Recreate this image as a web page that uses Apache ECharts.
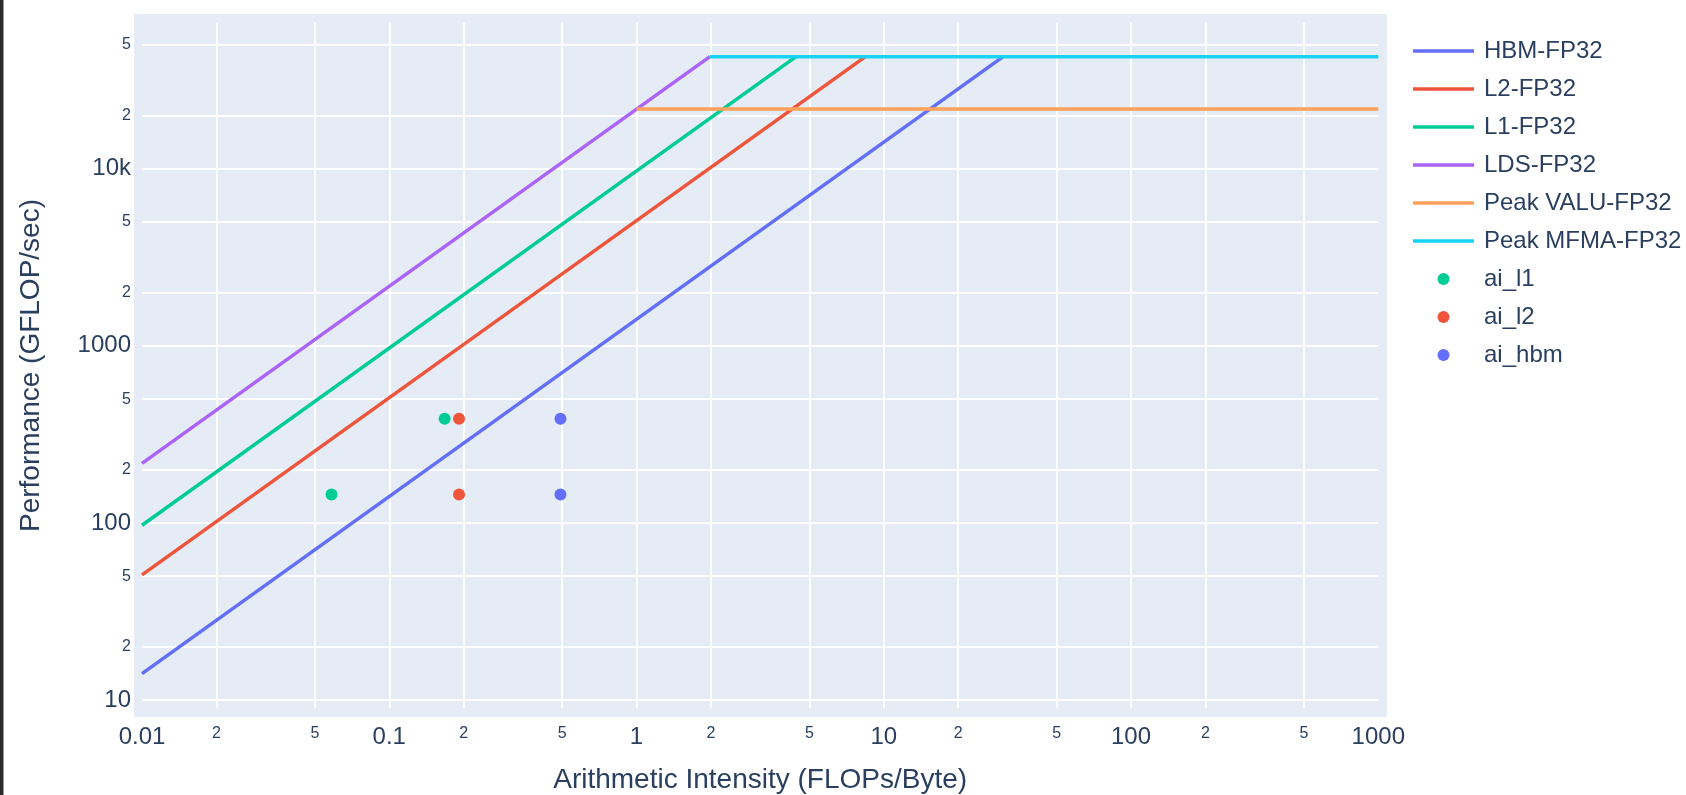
<!DOCTYPE html>
<html>
<head>
<meta charset="utf-8">
<script src="https://cdn.jsdelivr.net/npm/echarts@6/dist/echarts.min.js"></script>
<style>
html,body{margin:0;padding:0;background:#ffffff;}
#chart{width:1686px;height:795px;}
</style>
</head>
<body>
<div id="chart"></div>
<script>
// ---- data ----
const seriesNames = ['HBM-FP32','L2-FP32','L1-FP32','LDS-FP32','Peak VALU-FP32','Peak MFMA-FP32'];
const hbmX  = [0.01, 30.4];   const hbmY  = [14.1, 42900];
const l2X   = [0.01, 8.43];   const l2Y   = [50.9, 42900];
const l1X   = [0.01, 4.42];   const l1Y   = [97, 42900];
const ldsX  = [0.01, 1.98];   const ldsY  = [217, 42900];
const valuX = [1.0, 1000];    const valuY = [21700, 21700];
const mfmaX = [1.98, 1000];   const mfmaY = [42900, 42900];

const scatterNames = ['ai_l1','ai_l2','ai_hbm'];
const aiL1X  = [0.0584, 0.1675]; const aiL1Y  = [144.5, 387];
const aiL2X  = [0.1915, 0.1915]; const aiL2Y  = [144.5, 387];
const aiHbmX = [0.4926, 0.4926]; const aiHbmY = [144.5, 387];

const xTickValues = [0.01,0.02,0.05,0.1,0.2,0.5,1,2,5,10,20,50,100,200,500,1000];
const xTickLabels = ['0.01','2','5','0.1','2','5','1','2','5','10','2','5','100','2','5','1000'];
const yTickValues = [10,20,50,100,200,500,1000,2000,5000,10000,20000,50000];
const yTickLabels = ['10','2','5','100','2','5','1000','2','5','10k','2','5'];

const xRange = [0.01, 1000];
const yRange = [8.98, 66700];

// ---- styling ----
const colors = ['#636efa','#EF553B','#00cc96','#ab63fa','#FFA15A','#19d3f3'];
const textColor = '#2a3f5f';
const fontFamily = '"Liberation Sans", Arial, sans-serif';
const lineIcon = 'path://M0,0L61,0L61,3.5L0,3.5Z';

function pairs(xs, ys){ return xs.map((x,i)=>[x, ys[i]]); }
function makeFormatter(vals, labels){
  return function(v){
    for (let i=0;i<vals.length;i++){
      if (Math.abs(Math.log10(v) - Math.log10(vals[i])) < 1e-6){
        const t = labels[i];
        return (t === '2' || t === '5') ? '{small|' + t + '}' : '{big|' + t + '}';
      }
    }
    return '';
  };
}
const rich = {
  big:   {fontSize: 24, lineHeight: 24, color: textColor, fontFamily: fontFamily},
  small: {fontSize: 16, lineHeight: 16, color: textColor, fontFamily: fontFamily}
};

const lineSets = [[hbmX,hbmY],[l2X,l2Y],[l1X,l1Y],[ldsX,ldsY],[valuX,valuY],[mfmaX,mfmaY]];
const series = lineSets.map((s,i)=>({
  name: seriesNames[i],
  type: 'line',
  data: pairs(s[0], s[1]),
  symbol: 'none',
  showSymbol: false,
  lineStyle: {color: colors[i], width: 3.5},
  itemStyle: {color: colors[i]},
  silent: true,
  z: 2
}));
const scat = [[aiL1X, aiL1Y, colors[2]], [aiL2X, aiL2Y, colors[1]], [aiHbmX, aiHbmY, colors[0]]];
scat.forEach((s,i)=>{
  series.push({
    name: scatterNames[i], type: 'scatter', data: pairs(s[0], s[1]),
    symbol: 'circle', symbolSize: 12,
    itemStyle: {color: s[2], opacity: 1},
    silent: true, z: 3
  });
});

const legendData = seriesNames.map((n,i)=>({name: n, icon: lineIcon, itemStyle: {color: colors[i], borderWidth: 0}}))
  .concat(scatterNames.map(n=>({name: n, icon: 'circle'})));

const chart = echarts.init(document.getElementById('chart'), null, {renderer: 'canvas'});
chart.setOption({
  animation: false,
  backgroundColor: '#ffffff',
  textStyle: {fontFamily: fontFamily, color: textColor},
  graphic: [
    {type: 'rect', z: -10, shape: {x: 134, y: 14, width: 1253, height: 703}, style: {fill: '#E5ECF6'}},
    {type: 'rect', z: -10, shape: {x: 0, y: 0, width: 3, height: 795}, style: {fill: '#2c2c2c'}},
    {type: 'rect', z: -10, shape: {x: 3, y: 0, width: 1, height: 795}, style: {fill: '#9a9a9a'}}
  ],
  grid: {left: 142, right: 307.7, top: 22.7, bottom: 86.7, containLabel: false, outerBoundsMode: 'none'},
  legend: {
    orient: 'vertical', left: 1413, top: 39, padding: 0,
    itemWidth: 61, itemHeight: 12, itemGap: 14,
    symbolKeepAspect: true,
    data: legendData,
    textStyle: {fontSize: 24, lineHeight: 24, color: textColor, fontFamily: fontFamily, padding: [0,0,0,5]},
    selectedMode: false
  },
  xAxis: {
    type: 'log', logBase: 10, min: xRange[0], max: xRange[1],
    name: 'Arithmetic Intensity (FLOPs/Byte)', nameLocation: 'middle', nameGap: 58,
    nameTextStyle: {fontSize: 28, lineHeight: 28, color: textColor, fontFamily: fontFamily},
    axisLine: {show: false},
    axisTick: {show: false, customValues: xTickValues.slice(1, -1)},
    axisLabel: {customValues: xTickValues, formatter: makeFormatter(xTickValues, xTickLabels), rich: rich, margin: 17.5, hideOverlap: false, showMinLabel: true, showMaxLabel: true},
    splitLine: {show: true, lineStyle: {color: '#ffffff', width: 2}},
    minorSplitLine: {show: false}
  },
  yAxis: {
    type: 'log', logBase: 10, min: yRange[0], max: yRange[1],
    name: 'Performance (GFLOP/sec)', nameLocation: 'middle', nameGap: 97, nameRotate: 90,
    nameTextStyle: {fontSize: 28, lineHeight: 28, color: textColor, fontFamily: fontFamily},
    axisLine: {show: false},
    axisTick: {show: false, customValues: yTickValues},
    axisLabel: {customValues: yTickValues, formatter: makeFormatter(yTickValues, yTickLabels), rich: rich, margin: 11, hideOverlap: false},
    splitLine: {show: true, lineStyle: {color: '#ffffff', width: 2}}
  },
  series: series
});
</script>
</body>
</html>
